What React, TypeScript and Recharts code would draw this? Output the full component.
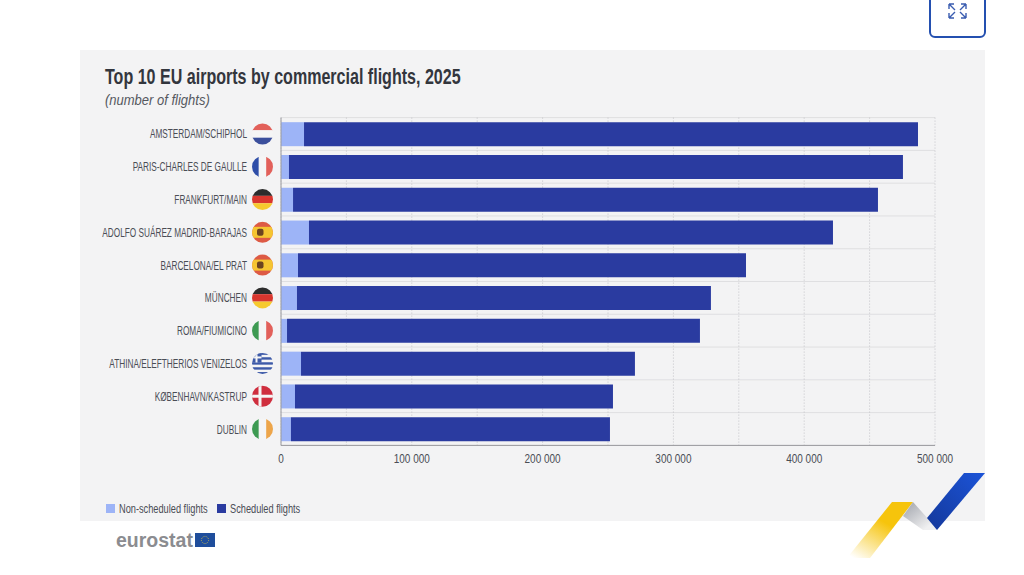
import { BarChart, Bar, XAxis, YAxis, CartesianGrid } from 'recharts'

const airports = [
  'AMSTERDAM/SCHIPHOL',
  'PARIS-CHARLES DE GAULLE',
  'FRANKFURT/MAIN',
  'ADOLFO SUÁREZ MADRID-BARAJAS',
  'BARCELONA/EL PRAT',
  'MÜNCHEN',
  'ROMA/FIUMICINO',
  'ATHINA/ELEFTHERIOS VENIZELOS',
  'KØBENHAVN/KASTRUP',
  'DUBLIN',
]
const flags = ['nl', 'fr', 'de', 'es', 'es', 'de', 'it', 'gr', 'dk', 'ie']
const nonScheduled = [17600, 6100, 9200, 21400, 13000, 12200, 4600, 15300, 10700, 7600]
const scheduled = [469400, 469400, 447200, 400600, 342500, 316500, 315700, 255300, 243100, 243900]
const gridTicks = [0, 50000, 100000, 150000, 200000, 250000, 300000, 350000, 400000, 450000, 500000]

const data = airports.map((airport, i) => ({
  airport,
  flag: flags[i],
  nonScheduled: nonScheduled[i],
  scheduled: scheduled[i],
}))

const FONT = '"Liberation Sans", sans-serif'
const TEXT = '#4a4d55'
const DARK = '#2a3ba0'
const LIGHT = '#9db4f7'

// no condensed font is installed, so text gets squeezed horizontally
function Narrow({ x, y, scale, anchor = 'start', size, weight, italic, fill = TEXT, children }: any) {
  return (
    <text
      transform={`translate(${x},${y}) scale(${scale},1)`}
      textAnchor={anchor}
      fontFamily={FONT}
      fontSize={size}
      fontWeight={weight}
      fontStyle={italic ? 'italic' : 'normal'}
      fill={fill}
    >
      {children}
    </text>
  )
}

function Flag({ code, id }: { code: string; id: string }) {
  const r = 11
  let body = null
  if (code === 'nl') {
    body = (
      <>
        <rect x={-r} y={-r} width={22} height={7.3} fill="#e2605a" />
        <rect x={-r} y={-3.7} width={22} height={7.4} fill="#f5f5f5" />
        <rect x={-r} y={3.7} width={22} height={7.3} fill="#3b4f9c" />
      </>
    )
  } else if (code === 'fr') {
    body = (
      <>
        <rect x={-r} y={-r} width={7.3} height={22} fill="#2f4ea8" />
        <rect x={-3.7} y={-r} width={7.4} height={22} fill="#f5f5f5" />
        <rect x={3.7} y={-r} width={7.3} height={22} fill="#e2605a" />
      </>
    )
  } else if (code === 'de') {
    body = (
      <>
        <rect x={-r} y={-r} width={22} height={7.3} fill="#2c2c2c" />
        <rect x={-r} y={-3.7} width={22} height={7.4} fill="#d9362e" />
        <rect x={-r} y={3.7} width={22} height={7.3} fill="#f6c92e" />
      </>
    )
  } else if (code === 'es') {
    body = (
      <>
        <rect x={-r} y={-r} width={22} height={22} fill="#dd5a45" />
        <rect x={-r} y={-5.5} width={22} height={11} fill="#f5c531" />
        <rect x={-5.5} y={-3.5} width={6.5} height={7} rx={2} fill="#6b4320" />
      </>
    )
  } else if (code === 'it') {
    body = (
      <>
        <rect x={-r} y={-r} width={7.3} height={22} fill="#3d9a52" />
        <rect x={-3.7} y={-r} width={7.4} height={22} fill="#f5f5f5" />
        <rect x={3.7} y={-r} width={7.3} height={22} fill="#e2605a" />
      </>
    )
  } else if (code === 'gr') {
    body = (
      <>
        <rect x={-r} y={-r} width={22} height={22} fill="#f5f5f5" />
        {[-9.8, -5, 0, 5, 9.8].map((y) => (
          <rect key={y} x={-r} y={y - 1.2} width={22} height={2.4} fill="#3d5aa8" />
        ))}
        <rect x={-r} y={-r} width={10} height={10} fill="#3d5aa8" />
        <rect x={-r} y={-7} width={10} height={2} fill="#f5f5f5" />
        <rect x={-7} y={-r} width={2} height={10} fill="#f5f5f5" />
      </>
    )
  } else if (code === 'dk') {
    body = (
      <>
        <rect x={-r} y={-r} width={22} height={22} fill="#cf2e3e" />
        <rect x={-r} y={-1.5} width={22} height={3} fill="#f5f5f5" />
        <rect x={-4} y={-r} width={3} height={22} fill="#f5f5f5" />
      </>
    )
  } else {
    body = (
      <>
        <rect x={-r} y={-r} width={7.3} height={22} fill="#3d9a52" />
        <rect x={-3.7} y={-r} width={7.4} height={22} fill="#f5f5f5" />
        <rect x={3.7} y={-r} width={7.3} height={22} fill="#eda54a" />
      </>
    )
  }
  return (
    <g>
      <clipPath id={id}>
        <circle r={10.5} />
      </clipPath>
      <g clipPath={`url(#${id})`}>{body}</g>
    </g>
  )
}

function AirportTick({ x, y, payload, index }: any) {
  return (
    <g>
      <Narrow x={x - 26} y={y + 4.5} scale={0.66} anchor="end" size={12.5}>
        {payload.value}
      </Narrow>
      <g transform={`translate(${x - 10.5},${y})`}>
        <Flag code={flags[index]} id={`flag-${index}`} />
      </g>
    </g>
  )
}

const formatTick = (v: number) => String(v).replace(/\B(?=(\d{3})+$)/g, ' ')

// gridlines sit every 50 000, labels only every 100 000
function ValueTick({ x, y, payload }: any) {
  if (payload.value % 100000 !== 0) return <g />
  return (
    <Narrow x={x} y={y + 10} scale={0.8} anchor="middle" size={12.5}>
      {formatTick(payload.value)}
    </Narrow>
  )
}

// horizontal lines fall between the bars, on the band edges
const bandEdges = ({ offset }: any) =>
  airports.concat('').map((_, i) => offset.top + (i * offset.height) / airports.length)

export default function App() {
  return (
    <div style={{ position: 'absolute', left: 0, top: 0, width: 1024, height: 575, background: '#fff', overflow: 'hidden' }}>
      {/* grey panel */}
      <div style={{ position: 'absolute', left: 80, top: 50, width: 905, height: 471, background: '#f3f3f4' }} />

      <div style={{ position: 'absolute', left: 80, top: 100 }}>
        <BarChart
          width={905}
          height={380}
          data={data}
          layout="vertical"
          barCategoryGap="14%"
          margin={{ top: 17.6, right: 50, bottom: 4.6, left: 0 }}
        >
          <CartesianGrid stroke="#dfdfe1" vertical={false} horizontalCoordinatesGenerator={bandEdges} />
          <CartesianGrid stroke="#c4c4c8" strokeDasharray="1 2" horizontal={false} />
          <XAxis
            type="number"
            domain={[0, 500000]}
            ticks={gridTicks}
            interval={0}
            axisLine={{ stroke: '#9a9a9e' }}
            tickLine={false}
            tick={<ValueTick />}
          />
          <YAxis
            type="category"
            dataKey="airport"
            width={201}
            interval={0}
            axisLine={{ stroke: '#9a9a9e' }}
            tickLine={false}
            tick={<AirportTick />}
          />
          <Bar dataKey="nonScheduled" stackId="flights" fill={LIGHT} isAnimationActive={false} />
          <Bar dataKey="scheduled" stackId="flights" fill={DARK} isAnimationActive={false} />
        </BarChart>
      </div>

      {/* everything around the chart: button, titles, legend, logo, ribbon */}
      <svg width={1024} height={575} style={{ position: 'absolute', left: 0, top: 0 }}>
        <defs>
          <linearGradient id="yellowFade" x1="0.8" y1="0" x2="0.1" y2="1">
            <stop offset="0.35" stopColor="#f6c40c" />
            <stop offset="1" stopColor="#f6c40c" stopOpacity={0} />
          </linearGradient>
          <linearGradient id="greyFold" x1="0" y1="0" x2="1" y2="1">
            <stop offset="0.1" stopColor="#a8abb2" />
            <stop offset="0.8" stopColor="#f0f0f1" />
          </linearGradient>
          <linearGradient id="blueBand" x1="0" y1="1" x2="1" y2="0">
            <stop offset="0" stopColor="#14389a" />
            <stop offset="1" stopColor="#1c54d8" />
          </linearGradient>
        </defs>

        <rect x={930} y={-10} width={55} height={47} rx={5} fill="#fff" stroke="#2450b0" strokeWidth={2} />
        <g stroke="#3a5cb0" strokeWidth={1.4} fill="none">
          <path d="M949 4 L949 9 M949 4 L954 4 M949 4 L955 10" />
          <path d="M966 4 L966 9 M966 4 L961 4 M966 4 L960 10" />
          <path d="M949 18 L949 13 M949 18 L954 18 M949 18 L955 12" />
          <path d="M966 18 L966 13 M966 18 L961 18 M966 18 L960 12" />
        </g>

        <Narrow x={105} y={84} scale={0.73} size={22} weight={700} fill="#33363d">
          Top 10 EU airports by commercial flights, 2025
        </Narrow>
        <Narrow x={105} y={105} scale={0.93} size={14} italic fill="#55585f">
          (number of flights)
        </Narrow>

        <rect x={106} y={504} width={9} height={9} fill={LIGHT} />
        <Narrow x={119} y={513} scale={0.77} size={12}>Non-scheduled flights</Narrow>
        <rect x={217} y={504} width={9} height={9} fill={DARK} />
        <Narrow x={230} y={513} scale={0.77} size={12}>Scheduled flights</Narrow>

        <text x={116} y={547} fontFamily={FONT} fontWeight={700} fontSize={19.5} fill="#8b8c90">eurostat</text>
        <rect x={195} y={533} width={20} height={14} fill="#1f4e9c" />
        <circle cx={205} cy={540} r={3.6} fill="none" stroke="#d8c24a" strokeWidth={0.8} strokeDasharray="1 1" />

        <polygon points="892,502 913,502 870,558 847,558" fill="url(#yellowFade)" />
        <polygon points="913,502 938,530 923,530 903,516" fill="url(#greyFold)" />
        <polygon points="964,473 985,473 937,530 927,518" fill="url(#blueBand)" />
      </svg>
    </div>
  )
}
